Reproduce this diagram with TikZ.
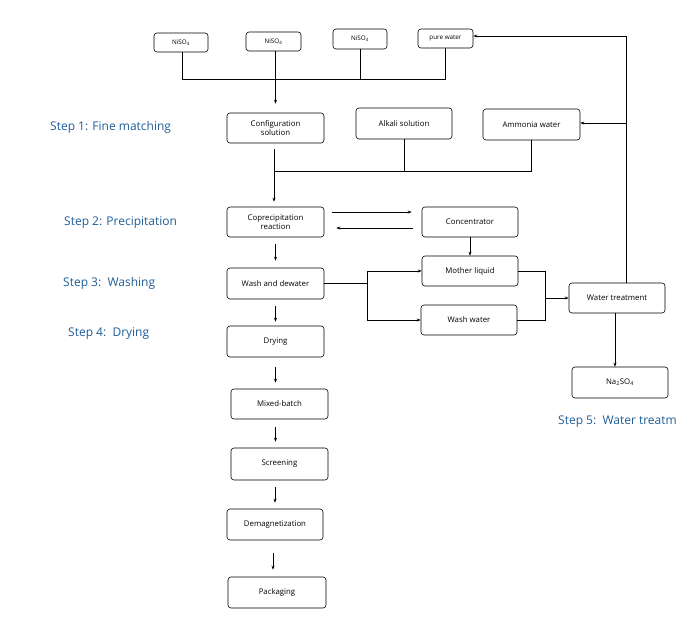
\documentclass[tikz,border=0pt]{standalone}
\usepackage{fontspec}
\setmainfont{Open Sans}
\usetikzlibrary{arrows.meta}
\definecolor{stepblue}{RGB}{31,93,150}
\tikzset{
  box/.style={draw, rounded corners=3pt, line width=0.6pt, minimum width=#1, inner sep=1pt, align=center, font=\fontsize{7.8}{9.2}\selectfont},
  box/.default=97pt,
  ln/.style={line width=0.6pt},
  arr/.style={line width=0.6pt, -{Stealth[length=4pt,width=3pt]}},
  steplbl/.style={anchor=west, text=stepblue, font=\fontsize{12}{14}\selectfont, inner sep=0pt}
}
\begin{document}
\begin{tikzpicture}[x=1pt,y=-1pt]
\useasboundingbox (0,0) rectangle (683,617);
% top row
\node[box=54pt, minimum height=19pt, font=\fontsize{6.3}{7}\selectfont] (n1) at (181,42.5) {NiSO\textsubscript{4}};
\node[box=55pt, minimum height=19pt, font=\fontsize{6.3}{7}\selectfont] (n2) at (273.5,41.5) {NiSO\textsubscript{4}};
\node[box=54pt, minimum height=20pt, font=\fontsize{6.3}{7}\selectfont] (n3) at (360,39) {NiSO\textsubscript{4}};
\node[box=55pt, minimum height=19pt, font=\fontsize{6.3}{7}\selectfont] (pw) at (445.5,38.5) {pure water};
% step 1 row
\node[box, minimum height=30pt] (conf) at (275.5,128) {Configuration\\solution};
\node[box=96pt, minimum height=31pt] (alk) at (404,123.5) {Alkali solution};
\node[box, minimum height=31pt] (amm) at (531.5,124.5) {Ammonia water};
% step 2
\node[box, minimum height=30pt] (cop) at (275.5,222) {Coprecipitation\\reaction};
\node[box=96pt, minimum height=30pt] (conc) at (470,222) {Concentrator};
% step 3
\node[box, minimum height=31pt] (wash) at (275.5,283.5) {Wash and dewater};
\node[box=96pt, minimum height=30pt] (mother) at (470,271) {Mother liquid};
\node[box=96pt, minimum height=30pt] (ww) at (469,320) {Wash water};
\node[box=96pt, minimum height=30pt] (wt) at (617,298) {Water treatment};
\node[box=96pt, minimum height=31pt] (na) at (620,382.5) {Na\textsubscript{2}SO\textsubscript{4}};
% remaining column
\node[box, minimum height=31pt] (dry) at (275.5,341.5) {Drying};
\node[box, minimum height=30pt] (mix) at (279.5,404) {Mixed-batch};
\node[box, minimum height=32pt] (scr) at (279.5,464) {Screening};
\node[box=96pt, minimum height=31pt] (dem) at (275,524.5) {Demagnetization};
\node[box=98pt, minimum height=31pt] (pack) at (277,592.5) {Packaging};
% step labels
\node[steplbl] (s1) at (50,127) {Step 1: Fine matching};
\node[steplbl] (s2) at (64,223) {Step 2: Precipitation};
\node[steplbl] (s3) at (63,283) {Step 3:\ \ Washing};
\node[steplbl] (s4) at (68,334) {Step 4:\ \ Drying};
\node[steplbl] (s5) at (558,422) {Step 5:\ \ Water treatm};
% top bus
\coordinate (bus1) at (182,79);
\coordinate (bus2) at (445,79);
\draw[ln] (n1.south -| bus1) -- (bus1) -- (bus2) -- (pw.south -| bus2);
\draw[ln] (n3.south) -- (n3.south |- bus1);
\draw[arr, shorten >=9pt] (n2.south -| conf.north) -- (conf.north);
% step 1 bus
\coordinate (b1) at (274,171);
\draw[ln] (alk.south) -- (alk.south |- b1) -- (b1);
\draw[ln] (amm.south) -- (amm.south |- b1) -- (alk.south |- b1);
\draw[arr, shorten <=6pt, shorten >=5pt] (conf.south -| b1) -- (cop.north -| b1);
% concentrator loop
\draw[arr] ([xshift=8pt,yshift=10pt]cop.east) -- ([xshift=-10pt,yshift=10pt]conc.west);
\draw[arr] ([xshift=-9pt,yshift=-6pt]conc.west) -- ([xshift=12pt,yshift=-6pt]cop.east);
\draw[arr] (conc.south) -- (mother.north);
% main column arrows
\draw[arr, shorten <=7pt, shorten >=7pt] (cop.south) -- (wash.north);
\draw[arr, shorten <=7pt, shorten >=4pt] (wash.south) -- (wash.south |- dry.north);
\draw[arr, shorten <=10pt, shorten >=6pt] (dry.south) -- (dry.south |- mix.north);
\draw[arr, shorten <=8pt, shorten >=6pt] (dry.south |- mix.south) -- (dry.south |- scr.north);
\draw[arr, shorten <=7pt, shorten >=6pt] (dem.north |- scr.south) -- (dem.north);
\draw[arr, shorten <=13pt, shorten >=7pt] ([xshift=-2pt]dem.south) -- ([xshift=-2pt]dem.south |- pack.north);
% wash split
\coordinate (sp) at (367,284);
\draw[ln] (wash.east) -- (wash.east -| sp);
\draw[ln] (sp |- mother.west) -- (sp |- ww.west);
\draw[arr] (sp |- mother.west) -- (mother.west);
\draw[arr] (sp |- ww.west) -- (ww.west);
% merge to water treatment
\coordinate (mg) at (545,298);
\draw[ln] (mother.east) -- (mother.east -| mg) -- (ww.east -| mg) -- (ww.east);
\draw[arr] (mg |- wt.west) -- (wt.west);
\draw[arr] ([xshift=-2pt]wt.south) -- ([xshift=-2pt]wt.south |- na.north);
% return line
\coordinate (rt) at (626,36);
\draw[arr] (wt.north -| rt) -- (rt) -- ([yshift=2.5pt]pw.east);
\draw[arr] (rt |- 0,123) -- (amm.east |- 0,123);
\end{tikzpicture}
\end{document}
